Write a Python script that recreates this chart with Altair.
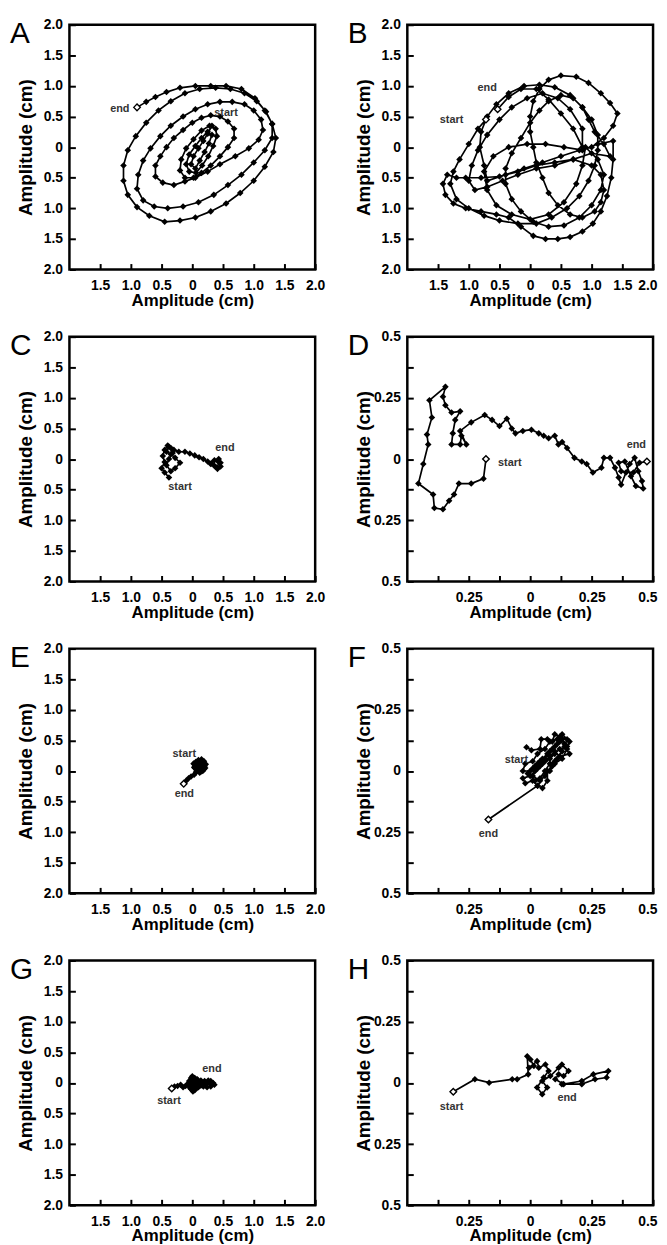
import altair as alt
import pandas as pd

FONT = "Liberation Sans"
W, H = 248, 247
TK = 6  # inward tick length

# ---------------- data ----------------
A_pts = [
    (0.32, 0.35), (0.25, 0.22), (0.18, 0.10), (0.10, -0.02), (0.02, -0.15), (-0.02, -0.28),
    (0.05, -0.35), (0.12, -0.22), (0.20, -0.08), (0.27, 0.06), (0.32, 0.20), (0.25, 0.25),
    (0.15, 0.15), (0.05, 0.02), (-0.05, -0.12), (-0.10, -0.28), (-0.05, -0.40), (0.06, -0.42),
    (0.16, -0.30), (0.26, -0.15), (0.34, 0.02), (0.40, 0.18), (0.38, 0.30), (0.28, 0.35),
    (0.15, 0.27), (0.02, 0.13), (-0.10, -0.02), (-0.18, -0.20), (-0.20, -0.38), (-0.12, -0.50),
    (0.02, -0.50), (0.15, -0.42),
    (0.30, -0.30), (0.45, -0.15), (0.58, 0.00), (0.68, 0.15), (0.68, 0.30), (0.58, 0.42),
    (0.45, 0.50), (0.30, 0.52), (0.15, 0.48), (0.00, 0.40), (-0.15, 0.28), (-0.30, 0.15),
    (-0.42, 0.00), (-0.52, -0.15), (-0.60, -0.30), (-0.60, -0.48), (-0.48, -0.58), (-0.30, -0.62),
    (-0.12, -0.56), (0.05, -0.50), (0.25, -0.40), (0.45, -0.28), (0.70, -0.15), (0.92, -0.02),
    (1.08, 0.12), (1.15, 0.28), (1.12, 0.45), (1.00, 0.60), (0.85, 0.70), (0.65, 0.74),
    (0.45, 0.74), (0.25, 0.70), (0.05, 0.62), (-0.15, 0.50), (-0.35, 0.35), (-0.52, 0.18),
    (-0.68, -0.02), (-0.80, -0.22), (-0.88, -0.45), (-0.90, -0.68), (-0.80, -0.87), (-0.62, -0.97),
    (-0.40, -1.00), (-0.15, -0.97), (0.10, -0.90), (0.35, -0.78), (0.58, -0.62), (0.80, -0.45),
    (1.00, -0.25), (1.18, -0.05), (1.30, 0.15), (1.30, 0.38), (1.20, 0.58), (1.05, 0.75),
    (0.85, 0.88), (0.62, 0.95), (0.38, 0.97), (0.12, 0.95), (-0.12, 0.88), (-0.35, 0.75),
    (-0.55, 0.60), (-0.75, 0.40), (-0.92, 0.18), (-1.05, -0.05), (-1.12, -0.30), (-1.12, -0.55),
    (-1.05, -0.78), (-0.90, -0.98), (-0.70, -1.12), (-0.45, -1.22), (-0.20, -1.20), (0.05, -1.15),
    (0.30, -1.05), (0.55, -0.92), (0.78, -0.75), (1.00, -0.55), (1.18, -0.32), (1.32, -0.08),
    (1.36, 0.15), (1.30, 0.38), (1.18, 0.60), (1.02, 0.80), (0.80, 0.95), (0.55, 1.00),
    (0.30, 1.00), (0.05, 1.00), (-0.20, 0.97), (-0.42, 0.90), (-0.60, 0.82), (-0.75, 0.74),
    (-0.90, 0.65),
]
B_pts = [
    (-0.72, 0.45), (-0.85, 0.30), (-1.00, 0.05), (-1.15, -0.20), (-1.25, -0.40), (-1.30, -0.60),
    (-1.20, -0.85), (-1.00, -1.00), (-0.75, -1.12), (-0.50, -1.20), (-0.20, -1.25), (0.10, -1.25),
    (0.35, -1.15), (0.60, -1.00), (0.80, -0.80), (0.95, -0.55), (1.05, -0.30), (1.10, -0.05),
    (1.10, 0.20), (1.00, 0.45), (0.85, 0.65), (0.65, 0.85), (0.40, 0.98), (0.15, 1.02),
    (-0.10, 1.00), (-0.35, 0.88), (-0.55, 0.70), (-0.70, 0.50), (-0.80, 0.25), (-0.82, 0.00),
    (-0.75, -0.30), (-0.70, -0.55), (-0.40, -0.45), (-0.10, -0.35), (0.20, -0.25), (0.50, -0.15),
    (0.80, -0.05), (1.00, 0.00), (1.20, 0.15), (1.35, 0.35), (1.42, 0.55), (1.30, 0.72),
    (1.15, 0.88), (0.95, 1.05), (0.75, 1.15), (0.50, 1.17), (0.30, 1.10), (0.15, 0.95),
    (0.05, 0.75), (0.00, 0.50), (0.00, 0.25), (0.05, 0.00), (0.10, -0.25), (0.20, -0.50),
    (0.30, -0.75), (0.45, -0.95), (0.65, -1.10), (0.85, -1.15), (1.05, -1.05), (1.15, -0.90),
    (1.20, -0.70), (1.15, -0.45), (1.00, -0.30), (0.70, -0.20), (0.40, -0.25), (0.10, -0.30),
    (-0.20, -0.40), (-0.50, -0.48), (-0.80, -0.50), (-1.05, -0.50), (-1.20, -0.50), (-1.35, -0.45),
    (-1.42, -0.60), (-1.38, -0.78), (-1.25, -0.92), (-1.05, -1.00), (-0.80, -1.05), (-0.55, -1.10),
    (-0.35, -1.15), (-0.15, -1.30), (0.05, -1.45), (0.25, -1.50), (0.45, -1.50), (0.65, -1.47),
    (0.85, -1.38), (1.02, -1.25), (1.15, -1.05), (1.25, -0.80), (1.32, -0.50), (1.35, -0.20),
    (1.35, 0.10), (1.10, 0.05), (0.85, -0.05), (0.55, 0.00), (0.25, 0.05), (-0.05, 0.05),
    (-0.35, 0.00), (-0.60, -0.15), (-0.75, -0.40), (-0.70, -0.70), (-0.55, -0.95), (-0.30, -1.10),
    (0.00, -1.18), (0.30, -1.10), (0.55, -0.90), (0.75, -0.60), (0.85, -0.30), (0.90, 0.00),
    (1.10, -0.20), (1.20, -0.45), (1.15, -0.70), (1.00, -0.95), (0.80, -1.15), (0.55, -1.28),
    (0.30, -1.30), (0.05, -1.22), (-0.15, -1.05), (-0.30, -0.85), (-0.40, -0.60), (-0.40, -0.35),
    (-0.30, -0.10), (-0.15, 0.15), (0.00, 0.40), (0.15, 0.60), (0.30, 0.75), (0.50, 0.85),
    (0.70, 0.80), (0.85, 0.65), (0.95, 0.45), (1.05, 0.25), (1.20, 0.05), (1.30, -0.15),
    (1.00, -0.10), (0.70, -0.20), (0.40, -0.30), (0.10, -0.35), (-0.20, -0.45), (-0.45, -0.55),
    (-0.70, -0.65), (-0.90, -0.70), (-1.00, -0.55), (-0.95, -0.30), (-0.85, -0.05), (-0.70, 0.20),
    (-0.50, 0.45), (-0.30, 0.65), (-0.05, 0.80), (0.20, 0.88), (0.45, 0.80), (0.65, 0.62),
    (0.85, 0.30), (0.85, 0.00), (0.70, 0.30), (0.50, 0.55), (0.30, 0.78), (0.10, 0.95),
    (-0.15, 0.95), (-0.35, 0.82), (-0.53, 0.62),
]
C_pts = [
    (-0.38, -0.30), (-0.45, -0.22), (-0.50, -0.15), (-0.45, -0.05), (-0.48, 0.05), (-0.45, 0.15),
    (-0.40, 0.22), (-0.35, 0.18), (-0.32, 0.10), (-0.38, 0.00), (-0.42, -0.10), (-0.35, -0.20),
    (-0.28, -0.15), (-0.20, -0.06), (-0.28, 0.02), (-0.35, 0.08), (-0.42, 0.12), (-0.38, 0.20),
    (-0.30, 0.15), (-0.22, 0.12), (-0.12, 0.12), (-0.04, 0.09), (0.04, 0.06), (0.11, 0.03),
    (0.18, 0.00), (0.25, -0.04), (0.31, -0.07), (0.36, -0.11), (0.41, -0.16), (0.46, -0.12),
    (0.43, -0.05), (0.36, -0.02), (0.30, -0.08), (0.38, -0.13), (0.46, -0.06), (0.43, 0.00),
]
D_pts = [
    (-0.18, 0.00), (-0.19, -0.08), (-0.24, -0.10), (-0.29, -0.10), (-0.31, -0.145), (-0.33, -0.17),
    (-0.355, -0.205), (-0.39, -0.20), (-0.395, -0.145), (-0.455, -0.10), (-0.435, -0.02),
    (-0.415, 0.06), (-0.42, 0.10), (-0.40, 0.17), (-0.41, 0.24), (-0.345, 0.295), (-0.355, 0.255),
    (-0.345, 0.22), (-0.32, 0.19), (-0.285, 0.195), (-0.305, 0.16), (-0.315, 0.105), (-0.32, 0.06),
    (-0.285, 0.06), (-0.28, 0.095), (-0.26, 0.06), (-0.285, 0.115), (-0.24, 0.15), (-0.185, 0.18),
    (-0.155, 0.16), (-0.125, 0.135), (-0.095, 0.165), (-0.075, 0.125), (-0.06, 0.105),
    (-0.03, 0.115), (0.005, 0.12), (0.035, 0.105), (0.055, 0.095), (0.075, 0.085), (0.10, 0.095),
    (0.115, 0.06), (0.13, 0.07), (0.15, 0.045), (0.18, 0.005), (0.21, -0.01), (0.23, -0.02),
    (0.255, -0.055), (0.29, -0.035), (0.30, 0.005), (0.325, 0.005), (0.345, -0.035), (0.36, -0.075),
    (0.37, -0.105), (0.39, -0.055), (0.405, -0.02), (0.425, 0.005), (0.44, -0.05), (0.455, -0.09),
    (0.46, -0.12), (0.43, -0.11), (0.41, -0.07), (0.385, -0.01), (0.36, -0.015), (0.37, -0.05),
    (0.42, -0.055), (0.445, -0.015), (0.475, -0.01),
]
E_pts = [
    (0.02, 0.12), (0.06, 0.15), (0.10, 0.18), (0.15, 0.19), (0.19, 0.16), (0.22, 0.11),
    (0.21, 0.05), (0.17, 0.00), (0.12, -0.03), (0.07, 0.00), (0.04, 0.05), (0.07, 0.10),
    (0.12, 0.13), (0.17, 0.12), (0.20, 0.08), (0.18, 0.02), (0.13, 0.02), (0.09, 0.06),
    (0.12, 0.09), (0.16, 0.07), (0.14, 0.15), (0.09, 0.13), (0.05, 0.09), (0.08, 0.03),
    (0.14, -0.01), (0.19, 0.03), (0.16, 0.10), (0.11, 0.16), (0.06, 0.12), (0.03, 0.06),
    (0.06, -0.02), (0.03, -0.06), (-0.02, -0.09), (-0.06, -0.12), (-0.10, -0.16), (-0.14, -0.21),
]
F_pts = [
    (-0.015, 0.097), (0.005, 0.085), (0.04, 0.09), (0.045, 0.13), (0.07, 0.13), (0.09, 0.12),
    (0.10, 0.15), (0.12, 0.14), (0.15, 0.13), (0.14, 0.10), (0.16, 0.07), (0.12, 0.06),
    (0.10, 0.08), (0.08, 0.06), (0.06, 0.04), (0.04, 0.02), (0.02, 0.00), (0.00, -0.02),
    (-0.03, -0.03), (-0.02, -0.05), (0.01, -0.04), (0.03, -0.06), (0.05, -0.07), (0.07, -0.04),
    (0.07, 0.00), (0.09, 0.02), (0.11, 0.05), (0.13, 0.08), (0.14, 0.11), (0.12, 0.12),
    (0.10, 0.10), (0.08, 0.08), (0.06, 0.05), (0.04, 0.04), (0.02, 0.02), (0.00, 0.00),
    (-0.03, 0.00), (-0.02, 0.03), (0.01, 0.04), (0.03, 0.07), (0.06, 0.09), (0.08, 0.12),
    (0.11, 0.13), (0.13, 0.15), (0.16, 0.12), (0.15, 0.09), (0.13, 0.05), (0.10, 0.03),
    (0.08, 0.00), (0.06, -0.02), (0.04, -0.04), (0.01, -0.02), (0.03, 0.01), (0.05, 0.03),
    (0.08, 0.05), (0.10, 0.07), (0.12, 0.09), (0.15, 0.10), (0.13, 0.13), (0.11, 0.11),
    (0.09, 0.09), (0.07, 0.07), (0.05, 0.05), (0.03, 0.03), (0.01, 0.01), (-0.01, -0.01),
    (0.02, -0.04), (0.04, -0.03), (0.06, 0.00), (0.08, 0.03), (0.10, 0.04), (0.03, -0.06),
    (-0.17, -0.198),
]
G_pts = [
    (-0.335, -0.09), (-0.29, -0.06), (-0.24, -0.05), (-0.19, -0.03), (-0.15, -0.07), (-0.11, -0.05),
    (-0.08, -0.02), (-0.05, 0.03), (-0.02, 0.08), (0.00, 0.11), (0.03, 0.08), (0.06, 0.05),
    (0.09, 0.02), (0.10, -0.03), (0.07, -0.08), (0.04, -0.12), (0.01, -0.14), (-0.02, -0.10),
    (-0.05, -0.06), (-0.03, -0.02), (0.00, 0.02), (0.04, 0.04), (0.08, 0.06), (0.05, 0.00),
    (0.02, -0.05), (0.05, -0.09), (0.10, -0.07), (0.07, -0.04), (0.03, -0.02), (0.00, -0.06),
    (-0.03, -0.09), (0.01, -0.11), (0.06, -0.06), (0.02, 0.05), (-0.02, 0.03), (0.04, 0.08),
    (0.08, 0.02), (0.14, -0.04), (0.18, 0.00), (0.22, -0.02), (0.26, 0.01), (0.30, -0.02),
    (0.34, 0.00), (0.36, -0.03), (0.30, -0.06), (0.24, -0.07), (0.18, -0.06), (0.12, -0.02),
    (0.08, 0.03), (0.14, 0.04), (0.20, 0.03), (0.26, 0.04), (0.30, 0.03),
]
H_pts = [
    (-0.313, -0.036), (-0.225, 0.015), (-0.167, 0.001), (-0.073, 0.015), (-0.053, 0.015),
    (-0.008, 0.035), (-0.012, 0.109), (0.001, 0.096), (0.015, 0.069), (-0.005, 0.062),
    (0.028, 0.089), (0.035, 0.062), (0.062, 0.075), (0.075, 0.049), (0.055, 0.022),
    (0.028, -0.019), (0.049, -0.046), (0.069, -0.019), (0.049, 0.008), (0.082, 0.028),
    (0.116, 0.062), (0.129, 0.075), (0.156, 0.049), (0.136, 0.028), (0.116, 0.035),
    (0.102, 0.015), (0.136, -0.005), (0.21, 0.008), (0.257, 0.035), (0.318, 0.049),
    (0.311, 0.022), (0.264, 0.015), (0.21, -0.005), (0.129, -0.005),
]

# text labels: (text, x, y)
A_labels = [("end", -1.18, 0.63), ("start", 0.55, 0.55)]
B_labels = [("end", -0.70, 0.97), ("start", -1.28, 0.44)]
C_labels = [("end", 0.53, 0.18), ("start", -0.20, -0.46)]
D_labels = [("end", 0.432, 0.059), ("start", -0.083, -0.016)]
E_labels = [("start", -0.13, 0.28), ("end", -0.13, -0.38)]
F_labels = [("start", -0.056, 0.044), ("end", -0.17, -0.258)]
G_labels = [("start", -0.38, -0.30), ("end", 0.32, 0.22)]
H_labels = [("start", -0.32, -0.10), ("end", 0.15, -0.06)]

# which ends are drawn as open diamonds
A_open = ["end"]
B_open = ["start", "end"]
C_open = []
D_open = ["start", "end"]
E_open = ["end"]
F_open = ["end"]
G_open = ["start"]
H_open = ["start"]

letters = ["A", "B", "C", "D", "E", "F", "G", "H"]
limits = [2.0, 2.0, 2.0, 0.5, 2.0, 0.5, 2.0, 0.5]

big_ticks_x = [-1.5, -1.0, -0.5, 0.0, 0.5, 1.0, 1.5, 2.0]
big_ticks_y = [-2.0, -1.5, -1.0, -0.5, 0.0, 0.5, 1.0, 1.5, 2.0]
small_ticks_x = [-0.375, -0.25, -0.125, 0.0, 0.125, 0.25, 0.375, 0.5]
small_ticks_y = [-0.5, -0.375, -0.25, -0.125, 0.0, 0.125, 0.25, 0.375, 0.5]

EXPR_BIG = "datum.value == 0 ? '0' : format(abs(datum.value), '.1f')"
EXPR_SMALL = ("abs(datum.value) == 0.5 ? '0.5' : (abs(datum.value) == 0.25 ? '0.25' : "
              "(datum.value == 0 ? '0' : ''))")

COMMON_AXIS = dict(
    domain=False, grid=False, ticks=True, tickColor="black", tickWidth=2, tickSize=TK,
    offset=-TK, labelFont=FONT, labelFontSize=14, labelFontWeight="bold", labelColor="black",
    labelOverlap=False, labelSeparation=0, titleFont=FONT,
    titleFontWeight="bold", titleColor="black", title="Amplitude (cm)",
)


def panel(letter, pts, lim, labels, opens, right_col):
    df = pd.DataFrame(pts, columns=["x", "y"])
    df["i"] = range(len(df))
    big = lim > 1
    xv = big_ticks_x if big else small_ticks_x
    yv = big_ticks_y if big else small_ticks_y
    expr = EXPR_BIG if big else EXPR_SMALL
    sc = alt.Scale(domain=[-lim, lim], nice=False, zero=False)
    if right_col:
        flush = dict(labelFlush=True, labelFlushOffset=4)
    else:
        flush = dict(labelFlush=False)
    x = alt.X("x:Q", scale=sc,
              axis=alt.Axis(values=xv, labelExpr=expr, labelPadding=9, titleFontSize=17,
                            titleX=W / 2, titleY=23 + TK, titleBaseline="top",
                            titleAlign="center", **flush, **COMMON_AXIS))
    y = alt.Y("y:Q", scale=sc,
              axis=alt.Axis(values=yv, labelExpr=expr, labelPadding=7, titleFontSize=19,
                            titleX=-34 - TK, titleY=H / 2, titleAngle=270,
                            titleBaseline="bottom", titleAlign="center", labelFlush=False,
                            **COMMON_AXIS))
    line = alt.Chart(df).mark_line(color="black", strokeWidth=1.7).encode(
        x=x, y=y, order="i:Q")
    dots = alt.Chart(df).mark_point(shape="diamond", filled=True, color="black", size=44,
                                    opacity=1).encode(x=x, y=y)
    rows = []
    if "start" in opens:
        rows.append(pts[0])
    if "end" in opens:
        rows.append(pts[-1])
    layers = [line, dots]
    if rows:
        odf = pd.DataFrame(rows, columns=["x", "y"])
        layers.append(alt.Chart(odf).mark_point(shape="diamond", filled=True, fill="white",
                                                stroke="black", strokeWidth=1.4, size=44,
                                                opacity=1).encode(x=x, y=y))
    ldf = pd.DataFrame(labels, columns=["t", "x", "y"])
    layers.append(alt.Chart(ldf).mark_text(font=FONT, fontSize=11, fontWeight="bold",
                                           color="#333333").encode(x=x, y=y, text="t:N"))
    layers.append(alt.Chart(pd.DataFrame({"t": [letter]})).mark_text(
        align="left", baseline="top", font=FONT, fontSize=30, fontWeight="normal",
        color="black").encode(text="t:N", x=alt.value(-60), y=alt.value(-5.5)))
    return alt.layer(*layers).properties(width=W, height=H)


all_pts = [A_pts, B_pts, C_pts, D_pts, E_pts, F_pts, G_pts, H_pts]
all_labels = [A_labels, B_labels, C_labels, D_labels, E_labels, F_labels, G_labels, H_labels]
all_open = [A_open, B_open, C_open, D_open, E_open, F_open, G_open, H_open]

panels = [panel(letters[k], all_pts[k], limits[k], all_labels[k], all_open[k], k % 2 == 1)
          for k in range(8)]
rows = [alt.hconcat(panels[2 * r], panels[2 * r + 1], spacing=20) for r in range(4)]

chart = alt.vconcat(*rows, spacing=17.8).properties(
    padding={"left": 0, "top": 2.2, "right": 0, "bottom": 0}
).configure_view(
    stroke="black", strokeWidth=2.5
)

chart.save("out.html", embed_options={"renderer": "svg", "actions": False})
